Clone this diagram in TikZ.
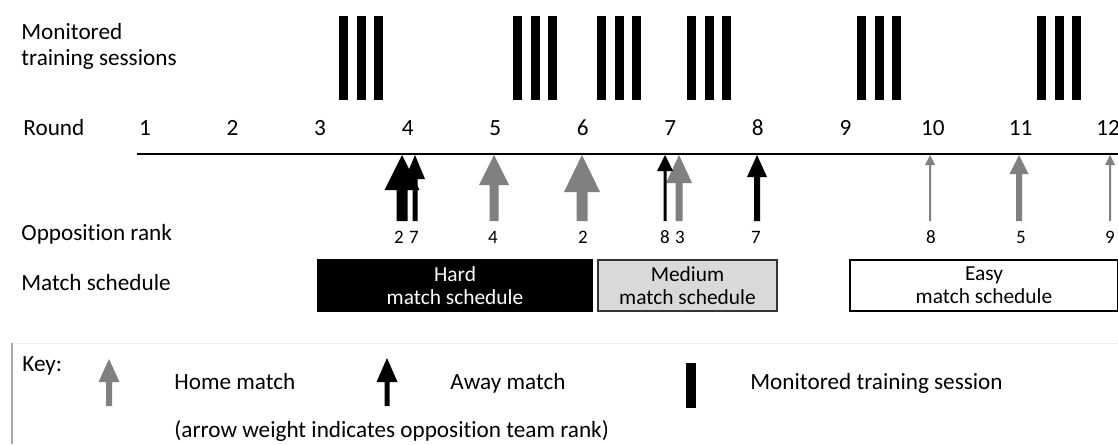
\documentclass[tikz,border=0pt]{standalone}
\usepackage{fontspec}
\setmainfont{Carlito}[Ligatures={NoCommon,NoRequired,NoContextual}, Contextuals=NoAlternate]

\definecolor{homegrey}{HTML}{808080}
\definecolor{mediumfill}{HTML}{D9D9D9}
\definecolor{keyline}{HTML}{A6A6A6}
\definecolor{keytop}{HTML}{EEEEEE}

% colour, x, tip y, head base y, bottom y, head half width, shaft half width
\newcommand{\matcharrow}[7]{%
	\fill[#1] (#2,#3) -- (#2+#6,#4) -- (#2+#7,#4) -- (#2+#7,#5)
		-- (#2-#7,#5) -- (#2-#7,#4) -- (#2-#6,#4) -- cycle;}

\tikzset{
	label text/.style={anchor=base west, inner sep=0pt, font=\fontsize{11.6}{13}\selectfont},
	round text/.style={anchor=base, inner sep=0pt, font=\fontsize{11.6}{13}\selectfont},
	rank text/.style={anchor=base, inner sep=0pt, font=\fontsize{9.5}{11}\selectfont},
	schedule box/.style={draw, line width=0.7pt, align=center, inner sep=0pt,
		minimum height=25.5pt, font=\fontsize{10.7}{11.5}\selectfont},
}

\begin{document}
\begin{tikzpicture}[x=0.5pt, y=-0.5pt]
			\useasboundingbox (0,0) rectangle (1118,444);

			% left column labels
			\node[label text] (monitored) at (21,40) {Monitored};
			\node[label text] (sessions) at (21,66) {training sessions};
			\node[label text] (round) at (23,135) {Round};
			\node[label text] (opposition) at (21,240) {Opposit\kern0pt ion rank};
			\node[label text] (schedule) at (21,290) {Match schedule};

			% monitored training sessions
			\begin{scope}
				\foreach \c in {361,535,619,709,879,1059}
					\foreach \d in {-17.5,0,17.5}
						\fill (\c+\d-4.5,16) rectangle (\c+\d+4.5,100);
			\end{scope}

			% rounds
			\foreach \i [evaluate=\i as \rx using 145+87.55*(\i-1)] in {1,...,12}
				\node[round text] (round\i) at (\rx,135) {\i};

			\coordinate (axis start) at (137,154);
			\coordinate (axis end) at (1118,154);
			\draw[line width=1pt] (axis start) -- (axis end);

			% matches
			\begin{scope}
				\foreach \col/\ax/\hb/\hw/\sw in {black/402/190/17.5/5.5, black/415/179/10/2.5,
						homegrey/494/185/15/4.5, homegrey/582/192/18/5.5, homegrey/679/183/13/3.5,
						black/665/171/8/1.5, black/757/177/10/3, homegrey/930/165/5/1,
						homegrey/1019/174/9.5/3, homegrey/1110/165/5/1}
					\matcharrow{\col}{\ax}{155}{\hb}{221}{\hw}{\sw};
			\end{scope}

			\foreach \rk/\rx [count=\n] in {2/399,7/414,4/493,2/583,8/665,3/680,7/756,8/931,5/1021,9/1110}
				\node[rank text] (rank\n) at (\rx,243) {\rk};

			% schedules
			\node[schedule box, fill=black, text=white, minimum width=137pt] (hard) at (455,285.5) {Hard\\match schedule};
			\node[schedule box, fill=mediumfill, draw=black!80, minimum width=89.5pt] (medium) at (687.5,285.5) {Medium\\match schedule};
			\node[schedule box, fill=white, minimum width=134pt] (easy) at (984,285.5) {Easy\\match schedule};

			% key
			\draw[keytop, line width=0.5pt] (12,343) -- (1118,343);
			\draw[keyline, line width=0.8pt] (12,343) -- (12,444);
			\node[label text] (key) at (22,371) {Key:};
			\matcharrow{homegrey}{109}{359}{382}{406}{10.5}{3}
			\node[label text] (home) at (174,389) {Home match};
			\matcharrow{black}{387}{358}{382}{406}{10.5}{2.5}
			\node[label text] (away) at (450,389) {Away match};
			\fill (686,363) rectangle (696,408);
			\node[label text] (session) at (750,389) {Monitored training session};
			\node[label text] (weight) at (174,437) {(arrow weight indicates opposit\kern0pt ion team rank)};
		\end{tikzpicture}
\end{document}
